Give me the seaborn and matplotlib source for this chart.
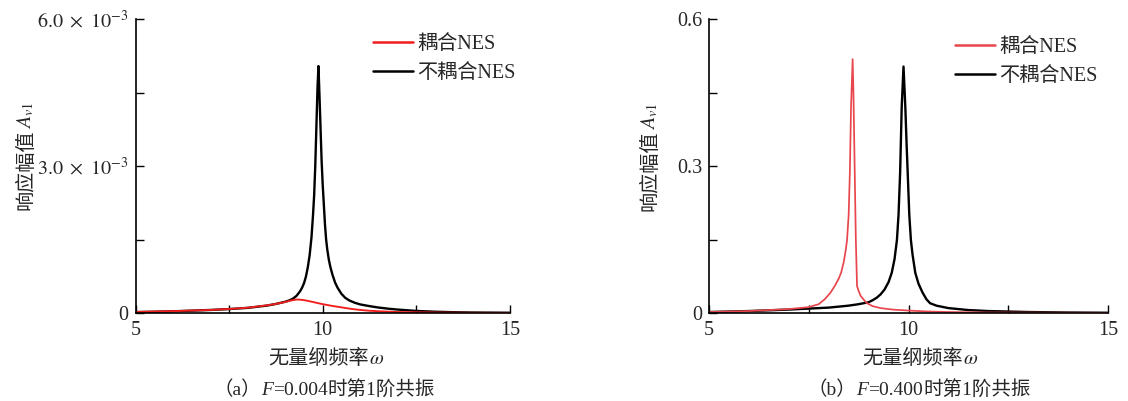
import numpy as np
import pandas as pd
import matplotlib
matplotlib.use("Agg")
import matplotlib.pyplot as plt
from matplotlib.ticker import FixedLocator, NullFormatter
import seaborn as sns

# ---- frequency response data (first-order resonance) ----
# (a) F = 0.004, amplitudes in units of 1e-3
freq_a_coupled = [5.0, 6.0, 7.0, 7.5, 8.0, 8.5, 8.75, 9.0, 9.15, 9.3, 9.4, 9.5, 9.6,
                  9.75, 10.0, 10.25, 10.5, 10.75, 11.0, 11.25, 11.5, 12.0, 13.0, 14.0, 15.0]
amp_a_coupled = [0.022, 0.038, 0.062, 0.082, 0.108, 0.155, 0.185, 0.225, 0.255, 0.275,
                 0.272, 0.262, 0.248, 0.222, 0.18, 0.145, 0.115, 0.085, 0.062, 0.046,
                 0.035, 0.02, 0.01, 0.004, 0.002]

freq_a_uncoupled = [5.0, 5.5, 6.0, 6.5, 7.0, 7.5, 8.0, 8.5, 8.75, 9.0, 9.1, 9.2, 9.3,
                    9.4, 9.45, 9.5, 9.55, 9.6, 9.65, 9.7, 9.74, 9.77, 9.8, 9.83, 9.86,
                    9.885, 9.91, 9.94, 9.97, 10.0, 10.03, 10.06, 10.09, 10.12, 10.16,
                    10.2, 10.26, 10.33, 10.4, 10.5, 10.6, 10.7, 10.85, 11.0, 11.25,
                    11.5, 11.75, 12.0, 12.5, 13.0, 13.5, 14.0, 15.0]
amp_a_uncoupled = [0.018, 0.026, 0.035, 0.048, 0.062, 0.08, 0.105, 0.15, 0.185, 0.23,
                   0.255, 0.29, 0.35, 0.45, 0.52, 0.61, 0.74, 0.93, 1.18, 1.55, 2.0,
                   2.4, 3.0, 3.8, 4.6, 5.04, 4.5, 3.8, 3.1, 2.6, 2.2, 1.8, 1.5, 1.3,
                   1.1, 0.95, 0.78, 0.62, 0.51, 0.39, 0.31, 0.26, 0.21, 0.175, 0.14,
                   0.11, 0.088, 0.07, 0.042, 0.026, 0.016, 0.01, 0.005]

# (b) F = 0.400
freq_b_coupled = [5.0, 5.5, 6.0, 6.5, 7.0, 7.5, 7.75, 7.9, 8.04, 8.15, 8.25, 8.31,
                  8.38, 8.43, 8.46, 8.5, 8.53, 8.56, 8.60, 8.62, 8.65, 8.68, 8.71,
                  8.75, 8.8, 8.9, 8.96, 9.1, 9.3, 9.6, 10.0, 10.5, 11.0, 12.0, 15.0]
amp_b_coupled = [0.002, 0.003, 0.004, 0.006, 0.008, 0.012, 0.018, 0.028, 0.041, 0.055,
                 0.07, 0.082, 0.105, 0.13, 0.149, 0.2, 0.286, 0.421, 0.518, 0.45,
                 0.30, 0.15, 0.055, 0.045, 0.035, 0.025, 0.020, 0.014, 0.010, 0.007,
                 0.005, 0.003, 0.002, 0.001, 0.0003]

freq_b_uncoupled = [5.0, 5.5, 6.0, 6.5, 7.0, 7.5, 8.0, 8.5, 8.75, 9.0, 9.1, 9.2, 9.3,
                    9.4, 9.5, 9.58, 9.65, 9.71, 9.75, 9.79, 9.83, 9.875, 9.92, 9.95,
                    9.98, 10.02, 10.06, 10.1, 10.17, 10.25, 10.35, 10.45, 10.54, 10.7,
                    11.0, 11.5, 12.0, 12.5, 13.0, 14.0, 15.0]
amp_b_uncoupled = [0.002, 0.003, 0.004, 0.0055, 0.007, 0.009, 0.011, 0.015, 0.018,
                   0.022, 0.026, 0.031, 0.038, 0.048, 0.063, 0.082, 0.11, 0.149, 0.2,
                   0.286, 0.421, 0.503, 0.421, 0.35, 0.286, 0.2, 0.149, 0.12, 0.082,
                   0.06, 0.042, 0.028, 0.020, 0.015, 0.010, 0.006, 0.004, 0.003,
                   0.002, 0.001, 0.0005]

series_labels = ["耦合NES", "不耦合NES"]
xticks_major = [5, 10, 15]
xticks_minor = [7.5, 12.5]

sns.set_style("ticks")
FAMILY = ["Liberation Serif", "Noto Sans CJK SC"]
plt.rcParams["font.family"] = FAMILY
plt.rcParams["mathtext.fontset"] = "stix"
plt.rcParams["axes.unicode_minus"] = False

W, H = 1128, 401
fig = plt.figure(figsize=(W / 100, H / 100), dpi=100)


def fx(px):
    return px / W


def fy(py):
    return 1 - py / H


ax_a = fig.add_axes([fx(135.5), fy(313), (510 - 135.5) / W, 294 / H])
ax_b = fig.add_axes([fx(709), fy(313), (1108 - 709) / W, 294 / H])

df_a = pd.concat([
    pd.DataFrame({"omega": freq_a_uncoupled, "amp": np.array(amp_a_uncoupled) * 1e-3,
                  "case": series_labels[1]}),
    pd.DataFrame({"omega": freq_a_coupled, "amp": np.array(amp_a_coupled) * 1e-3,
                  "case": series_labels[0]}),
])
df_b = pd.concat([
    pd.DataFrame({"omega": freq_b_uncoupled, "amp": amp_b_uncoupled, "case": series_labels[1]}),
    pd.DataFrame({"omega": freq_b_coupled, "amp": amp_b_coupled, "case": series_labels[0]}),
])

pal_a = {series_labels[0]: "#f31d1d", series_labels[1]: "#000000"}
pal_b = {series_labels[0]: "#e8464c", series_labels[1]: "#000000"}

sns.lineplot(data=df_a, x="omega", y="amp", hue="case", sort=False, ax=ax_a,
             palette=pal_a, hue_order=[series_labels[1], series_labels[0]],
             legend=False, estimator=None)
sns.lineplot(data=df_b, x="omega", y="amp", hue="case", sort=False, ax=ax_b,
             palette=pal_b, hue_order=[series_labels[1], series_labels[0]],
             legend=False, estimator=None)

# lines[0] = uncoupled (black), lines[1] = coupled (red)
ax_a.lines[0].set_linewidth(1.7)
ax_a.lines[1].set_linewidth(1.35)
ax_b.lines[0].set_linewidth(1.7)
ax_b.lines[1].set_linewidth(1.25)
for ax in (ax_a, ax_b):
    for ln in ax.lines:
        ln.set_solid_joinstyle("round")

tick_font = dict(family=FAMILY, size=14.5)


def style_axes(ax, ymax, yticks, ylabels, yminor):
    ax.set_xlim(5, 15)
    ax.set_ylim(0, ymax)
    ax.xaxis.set_major_locator(FixedLocator(xticks_major))
    ax.xaxis.set_minor_locator(FixedLocator(xticks_minor))
    ax.xaxis.set_minor_formatter(NullFormatter())
    ax.set_xticklabels([str(t) for t in xticks_major], **tick_font)
    ax.yaxis.set_major_locator(FixedLocator(yticks))
    ax.yaxis.set_minor_locator(FixedLocator(yminor))
    ax.yaxis.set_minor_formatter(NullFormatter())
    ax.set_yticklabels(ylabels, **tick_font)
    ax.tick_params(which="both", direction="in", length=6, width=1.0, color="black")
    ax.tick_params(axis="x", which="major", pad=6)
    ax.tick_params(axis="y", which="major", pad=5)
    for side in ("top", "right"):
        ax.spines[side].set_visible(False)
    for side in ("left", "bottom"):
        ax.spines[side].set_linewidth(1.2)
        ax.spines[side].set_color("black")
    ax.set_xlabel("")
    ax.set_ylabel("")


style_axes(ax_a, 6.0e-3, [0, 3.0e-3, 6.0e-3],
           ["0", r"$3.0\ \times\ 10^{-3}$", r"$6.0\ \times\ 10^{-3}$"], [1.5e-3, 4.5e-3])
style_axes(ax_b, 0.6, [0, 0.3, 0.6], ["0", "0.3", "0.6"], [0.15, 0.45])


def legend_for(ax, x_px, y_px):
    handles = [ax.lines[1], ax.lines[0]]
    leg = ax.legend(handles, series_labels, loc="upper left",
                    bbox_to_anchor=(fx(x_px), fy(y_px)),
                    bbox_transform=fig.transFigure, frameon=False,
                    borderaxespad=0, borderpad=0, handlelength=2.0,
                    handletextpad=0.2, labelspacing=0.5,
                    prop={"family": FAMILY, "size": 14.5})
    for h in leg.get_lines():
        h.set_linewidth(1.8)
    return leg


legend_for(ax_a, 373, 35)
legend_for(ax_b, 955, 38)

# ---- composite labels: CJK text mixed with italic Latin / math pieces ----
fig.canvas.draw()
renderer = fig.canvas.get_renderer()


def compose(pieces, cx, cy, size, rotation=0):
    """Place text fragments in a row (or a column when rotated) centred on cx, cy (px)."""
    texts = []
    for s, kw in pieces:
        t = fig.text(0, 0, s, fontsize=size, rotation=rotation,
                     rotation_mode="anchor", ha="left", va="baseline",
                     family=FAMILY, **kw)
        texts.append(t)
    fig.canvas.draw()
    lens = []
    for t in texts:
        bb = t.get_window_extent(renderer)
        lens.append(bb.width if rotation == 0 else bb.height)
    total = sum(lens)
    pos = -total / 2
    for t, ln in zip(texts, lens):
        if rotation == 0:
            t.set_position((fx(cx + pos), fy(cy + size * 0.45)))
        else:
            t.set_position((fx(cx + size * 0.45), fy(cy - pos)))
        pos += ln
    return texts


ylab = [("响应幅值", {}), (r"$A_{v\mathit{1}}$", {})]
compose(ylab, 25, 156, 14.5, rotation=90)
compose(ylab, 649, 157, 14.5, rotation=90)

xlab = [("无量纲频率", {}), (r"$\omega$", {})]
compose(xlab, 326, 357, 14.5)
compose(xlab, 920, 357, 14.5)

cap_a = [("（a）", {}), ("F", {"style": "italic"}), ("=0.004", {}), ("时第1阶共振", {})]
cap_b = [("（b）", {}), ("F", {"style": "italic"}), ("=0.400", {}), ("时第1阶共振", {})]
compose(cap_a, 324, 389, 14)
compose(cap_b, 919, 389, 14)

fig.savefig("out.png", dpi=100)
